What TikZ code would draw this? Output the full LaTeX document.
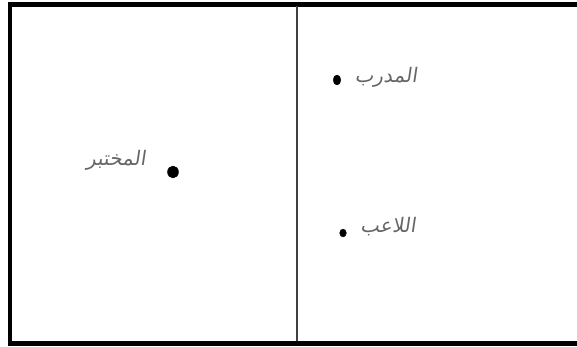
\documentclass[tikz,border=0pt]{standalone}
\usepackage{fontspec}
\TeXXeTstate=1
\newfontfamily\arabicfont[Script=Arabic,FakeSlant=0.15]{DejaVu Sans}
\begin{document}
\begin{tikzpicture}[x=1pt,y=-1pt,
    label/.style={text=black!60,font=\arabicfont\fontsize{20}{22}\selectfont}]
    \useasboundingbox (0,0) rectangle (577,347);
    \draw[line width=4.5pt] (590,4.5) -- (10,4.5) -- (10,343.5) -- (590,343.5);
    \draw[line width=1.2pt, black!75] (297,6) -- (297,341);
    \filldraw (337,80) ellipse(3.8pt and 5pt);
    \node[label] (coach) at (386,77) {\beginR المدرب\endR};
    \filldraw (173,172) ellipse(5.5pt and 6pt);
    \node[label] (tester) at (116,160) {\beginR المختبر\endR};
    \filldraw (343,233) ellipse(3.3pt and 4pt);
    \node[label] (player) at (388,227) {\beginR اللاعب\endR};
\end{tikzpicture}
\end{document}
